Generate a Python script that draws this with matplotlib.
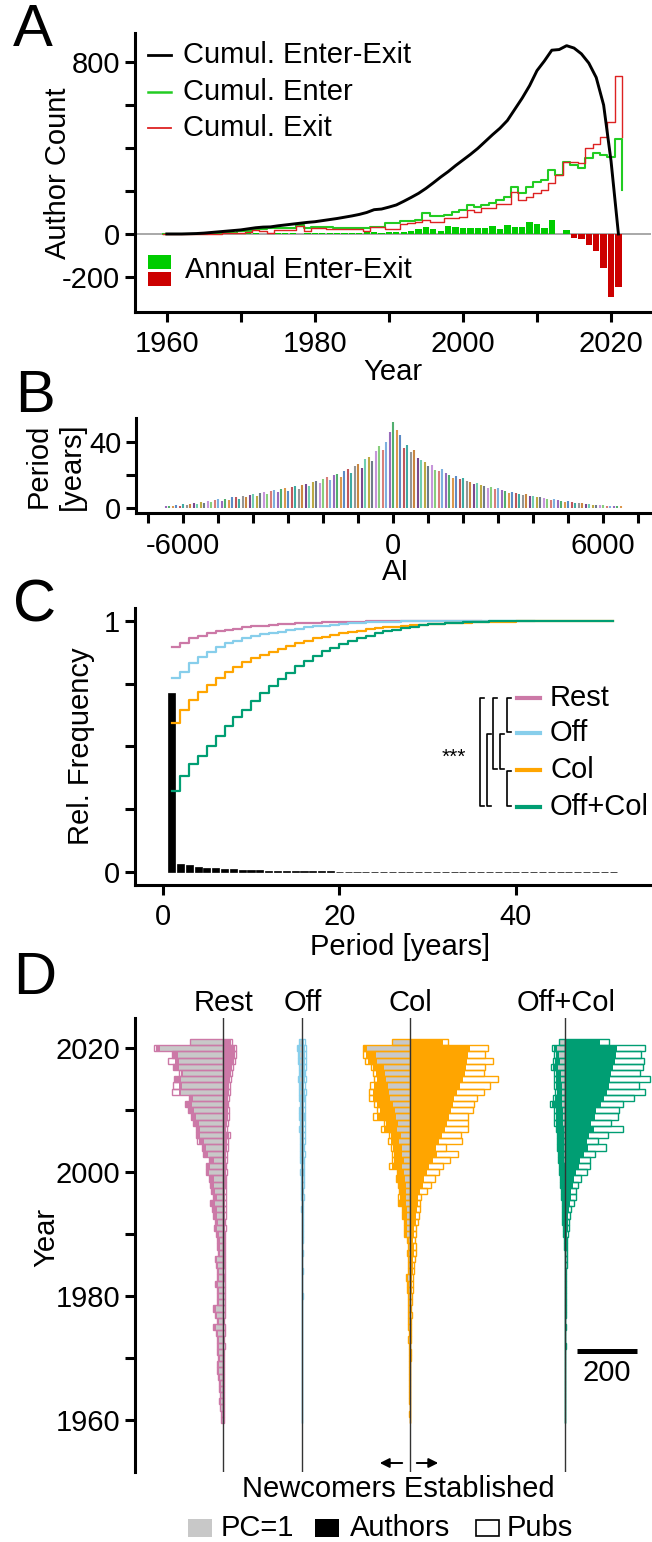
import numpy as np
import matplotlib
matplotlib.use('Agg')
from matplotlib import pyplot as plt
from matplotlib.patches import Rectangle

plt.rcParams['font.family'] = ['Liberation Sans', 'DejaVu Sans']
plt.rcParams['axes.unicode_minus'] = False

W, H = 652, 1542

# ---------------- A: authors entering / leaving per year
years = np.arange(1960, 2022)
annual = [0, 0, 0, 1, 1, 2, 2, 2, 3, 3,
          3, 4, 3, 2, 2, 3, 4, 3, 2, 3,
          3, 4, 4, 3, 4, 5, 6, 8, 8, 6,
          7, 9, 11, 14, 23, 34, 22, 14, 39, 34,
          29, 26, 26, 26, 39, 23, 42, 31, 31, 57,
          46, 26, 65, 0, 20, -20, -25, -51, -79, -160,
          -295, -245]
cum_enter = [0, 0, 0, 1, 1, 2, 3, 4, 5, 6,
             13, 13, 21, 21, 26, 26, 30, 30, 43, 28,
             34, 34, 34, 30, 30, 28, 28, 30, 33, 34,
             49, 49, 60, 62, 64, 96, 82, 85, 88, 104,
             112, 135, 127, 135, 146, 158, 174, 220, 189, 220,
             243, 251, 298, 274, 336, 321, 305, 352, 375, 367,
             360, 440]
cum_exit = [0, 0, 0, 0, 0, 1, 1, 2, 3, 4,
            6, 10, 20, 13, 5, 20, 20, 20, 35, 15,
            26, 26, 24, 23, 23, 23, 23, 13, 32, 32,
            23, 23, 46, 50, 55, 65, 58, 58, 73, 73,
            81, 112, 104, 119, 119, 138, 138, 197, 158, 174,
            189, 205, 236, 275, 336, 336, 329, 398, 420, 449,
            519, 735]
enter_end = 205
exit_end = 449
cum_diff = [0, 0, 0, 1, 2, 4, 7, 10, 13, 16,
            19, 24, 29, 32, 33, 38, 42, 46, 50, 54,
            57, 62, 67, 72, 78, 84, 91, 100, 113, 116,
            125, 135, 152, 170, 189, 212, 238, 265, 290, 318,
            344, 370, 398, 430, 462, 492, 528, 580, 632, 690,
            760, 805, 855, 858, 876, 865, 838, 795, 728, 600,
            340, 0]

# ---------------- B: period of each author along AI
ai_pos = np.arange(-6500, 6501, 100)
period_h = [1.0, 1.2, 0.8, 1.5, 1.3, 2.0, 1.6, 2.4, 2.9, 2.2,
            3.6, 3.0, 4.1, 3.4, 4.6, 5.2, 4.1, 5.6, 4.8, 6.3,
            6.8, 5.5, 7.2, 6.4, 7.9, 8.4, 7.0, 9.1, 9.6, 8.2,
            10.3, 10.8, 9.4, 11.2, 11.8, 10.5, 12.6, 13.1, 11.6, 13.9,
            14.6, 13.0, 15.8, 16.3, 14.9, 17.5, 18.6, 16.8, 19.9, 20.8,
            18.7, 22.6, 23.5, 21.4, 25.4, 26.8, 24.6, 29.8, 31.2, 28.5,
            34.7, 37.6, 35.2, 40.3, 46.5,
            52.5,
            47.8, 44.6, 36.4, 38.2, 34.1, 35.3, 30.6, 29.4, 27.8, 25.3,
            26.1, 23.2, 22.4, 23.6, 21.1, 20.3, 18.4, 19.2, 17.6, 18.1,
            16.2, 15.9, 14.4, 15.1, 13.8, 13.2, 12.1, 12.7, 11.4, 11.9,
            10.6, 10.2, 9.3, 9.8, 8.9, 8.6, 7.8, 8.2, 7.3, 7.0,
            6.4, 6.8, 5.9, 5.6, 5.0, 5.3, 4.5, 4.2, 3.7, 3.9,
            3.3, 3.0, 2.6, 2.8, 2.3, 2.0, 1.8, 1.9, 1.5, 1.6,
            1.3, 1.1, 1.2, 0.9, 0.8]
line_cols = ['#8e5bb5', '#3fa65f', '#d98c3a', '#4a7fc0', '#b8434a', '#2aa198',
             '#8a8a8a', '#c47a2c', '#6c3483', '#5fc9a8', '#b5a030', '#5d6d7e',
             '#c08ad6', '#7bc96f', '#d4706a', '#6fa8dc']

# ---------------- C: period histogram and cumulative fractions
periods = np.arange(1, 52)
period_hist = [0.711, 0.034, 0.029, 0.022, 0.019, 0.016, 0.014, 0.012, 0.011, 0.009,
               0.008, 0.007, 0.006, 0.006, 0.005, 0.005, 0.004, 0.004, 0.0035, 0.003,
               0.003, 0.0025, 0.0022, 0.002, 0.0018, 0.0016, 0.0014, 0.0012, 0.0011, 0.001,
               0.0009, 0.0008, 0.0008, 0.0007, 0.0006, 0.0006, 0.0005, 0.0005, 0.0004, 0.0004,
               0.0004, 0.0003, 0.0003, 0.0003, 0.0003, 0.0002, 0.0002, 0.0002, 0.0002, 0.0002,
               0.0002]
cdf_rest = [0.894, 0.91, 0.93, 0.94, 0.95, 0.957, 0.963, 0.968, 0.973, 0.977,
            0.98, 0.983, 0.985, 0.987, 0.989, 0.991, 0.992, 0.993, 0.994, 0.995,
            0.996, 0.996, 0.997, 0.997, 0.998, 0.998, 0.998, 0.999, 0.999, 0.999,
            0.999, 1.0, 1.0, 1.0, 1.0, 1.0]
cdf_off = [0.771, 0.797, 0.83, 0.855, 0.877, 0.894, 0.91, 0.92, 0.93, 0.94,
           0.945, 0.95, 0.956, 0.963, 0.968, 0.973, 0.977, 0.98, 0.984, 0.987,
           0.989, 0.991, 0.993, 0.994, 0.995, 0.996, 0.997, 0.998, 0.998, 0.999,
           0.999, 0.999, 1.0, 1.0, 1.0, 1.0, 1.0, 1.0, 1.0, 1.0, 1.0, 1.0]
cdf_col = [0.592, 0.645, 0.685, 0.715, 0.745, 0.771, 0.794, 0.815, 0.834, 0.85,
           0.864, 0.877, 0.889, 0.9, 0.91, 0.92, 0.929, 0.936, 0.943, 0.95,
           0.955, 0.96, 0.965, 0.969, 0.973, 0.976, 0.979, 0.982, 0.984, 0.986,
           0.988, 0.99, 0.991, 0.992, 0.993, 0.994, 0.995, 0.996, 0.996, 0.997,
           0.997, 0.998, 0.998, 0.998, 0.999, 0.999, 0.999, 0.999, 1.0, 1.0, 1.0]
cdf_offcol = [0.324, 0.382, 0.43, 0.462, 0.5, 0.54, 0.582, 0.617, 0.646, 0.679,
              0.712, 0.741, 0.768, 0.792, 0.818, 0.838, 0.858, 0.878, 0.893, 0.906,
              0.918, 0.93, 0.94, 0.949, 0.957, 0.964, 0.97, 0.976, 0.981, 0.985,
              0.988, 0.99, 0.992, 0.994, 0.995, 0.996, 0.997, 0.997, 0.998, 0.998,
              0.999, 0.999, 0.999, 0.999, 1.0, 1.0, 1.0, 1.0, 1.0, 1.0, 1.0]

# ---------------- D: newcomers (left) / established (right) per year
rest_pc1 = [6, 6, 7, 9, 7, 9, 9, 11, 15, 14, 12, 14, 15, 15, 17, 24, 15, 20, 25, 14,
            14, 15, 18, 13, 15, 18, 21, 10, 12, 12, 16, 21, 19, 21, 23, 27, 23, 27, 30, 32,
            49, 44, 32, 53, 57, 66, 77, 77, 82, 91, 100, 106, 102, 144, 138, 142, 135, 148, 150, 153,
            214, 110]
rest_new_auth = [8, 8, 10, 12, 10, 12, 12, 16, 21, 19, 16, 19, 21, 21, 24, 32, 21, 27, 32, 19,
                 19, 21, 26, 19, 21, 24, 27, 16, 19, 19, 24, 30, 27, 32, 35, 41, 32, 38, 41, 44,
                 57, 55, 46, 64, 68, 83, 88, 88, 97, 105, 116, 124, 111, 150, 150, 161, 144, 166, 161, 169,
                 228, 112]
rest_new_pubs = [9, 9, 11, 13, 11, 13, 13, 17, 23, 21, 17, 21, 23, 23, 26, 34, 23, 29, 35, 21,
                 21, 23, 28, 21, 23, 26, 29, 18, 21, 21, 26, 32, 29, 35, 37, 44, 35, 41, 44, 47,
                 60, 58, 49, 67, 71, 87, 92, 91, 101, 109, 120, 128, 115, 171, 169, 165, 148, 168, 187, 172,
                 232, 113]
rest_est_auth = [1, 1, 1, 1, 2, 1, 2, 2, 2, 2, 2, 2, 3, 2, 3, 3, 2, 3, 3, 3,
                 3, 3, 3, 4, 3, 4, 4, 5, 4, 5, 5, 6, 5, 6, 6, 7, 6, 7, 8, 8,
                 9, 8, 9, 10, 12, 12, 20, 10, 12, 15, 16, 14, 15, 18, 20, 22, 25, 28, 35, 38,
                 40, 27]
rest_est_pubs = [2, 2, 2, 2, 3, 2, 3, 3, 3, 3, 3, 3, 4, 3, 4, 4, 3, 4, 5, 4,
                 4, 4, 5, 5, 4, 5, 6, 6, 5, 6, 7, 8, 7, 8, 8, 9, 8, 9, 10, 10,
                 11, 10, 11, 12, 14, 14, 23, 12, 14, 18, 19, 17, 18, 21, 23, 25, 28, 32, 38, 42,
                 44, 29]

off_pc1 = [0, 0, 0, 0, 0, 0, 0, 0, 0, 0, 0, 0, 0, 0, 0, 0, 0, 0, 0, 0,
           0, 0, 0, 1, 0, 0, 0, 1, 0, 0, 1, 1, 1, 1, 2, 1, 2, 2, 2, 3,
           4, 2, 3, 4, 4, 5, 4, 5, 5, 6, 5, 5, 6, 7, 5, 7, 6, 7, 8, 7,
           9, 10]
off_new_auth = [0, 0, 0, 0, 0, 0, 0, 0, 0, 0, 0, 0, 0, 0, 0, 0, 0, 0, 0, 0,
                1, 0, 0, 1, 0, 0, 1, 1, 0, 1, 1, 2, 1, 2, 3, 2, 3, 4, 3, 5,
                6, 4, 5, 7, 6, 8, 7, 9, 8, 10, 9, 8, 10, 11, 9, 12, 10, 11, 13, 12,
                14, 11]
off_new_pubs = [0, 0, 0, 0, 0, 0, 0, 0, 0, 0, 0, 0, 0, 0, 0, 0, 0, 0, 0, 0,
                2, 0, 0, 2, 0, 0, 2, 2, 0, 2, 2, 3, 2, 3, 4, 3, 4, 5, 4, 6,
                8, 5, 7, 9, 8, 10, 9, 11, 10, 12, 11, 10, 12, 13, 11, 14, 12, 13, 15, 14,
                17, 13]
off_est_auth = [0, 0, 0, 0, 0, 0, 0, 0, 0, 0, 0, 0, 0, 0, 0, 0, 0, 0, 0, 0,
                1, 0, 0, 0, 1, 0, 0, 1, 0, 1, 1, 1, 2, 1, 2, 2, 3, 2, 3, 3,
                4, 3, 4, 5, 4, 5, 5, 6, 5, 7, 6, 5, 7, 8, 6, 8, 7, 8, 9, 8,
                10, 6]
off_est_pubs = [0, 0, 0, 0, 0, 0, 0, 0, 0, 0, 0, 0, 0, 0, 0, 0, 0, 0, 0, 0,
                2, 0, 0, 0, 2, 0, 0, 2, 0, 2, 2, 2, 3, 2, 3, 3, 4, 3, 4, 4,
                6, 4, 6, 7, 6, 7, 7, 8, 7, 9, 8, 7, 9, 11, 8, 11, 9, 11, 12, 11,
                13, 8]

col_pc1 = [0, 0, 0, 0, 0, 0, 1, 0, 1, 1, 1, 1, 1, 2, 1, 2, 2, 2, 2, 2,
           2, 3, 3, 5, 2, 2, 2, 3, 2, 3, 8, 7, 8, 9, 10, 12, 13, 13, 12, 14,
           18, 24, 20, 27, 27, 35, 29, 43, 40, 46, 49, 57, 65, 68, 72, 80, 83, 87, 108, 113,
           143, 56]
col_new_auth = [0, 1, 0, 1, 1, 1, 2, 1, 2, 2, 3, 2, 3, 3, 3, 4, 4, 4, 5, 5,
                5, 6, 8, 10, 4, 5, 5, 6, 5, 6, 17, 16, 18, 21, 24, 35, 33, 31, 36, 41,
                39, 60, 54, 54, 57, 64, 62, 86, 78, 110, 98, 108, 122, 124, 120, 110, 114, 122, 140, 148,
                152, 57]
col_new_pubs = [0, 1, 0, 1, 1, 1, 2, 1, 2, 2, 3, 2, 3, 4, 3, 4, 5, 4, 6, 5,
                5, 7, 9, 12, 4, 5, 5, 7, 5, 7, 20, 18, 20, 24, 27, 40, 38, 35, 40, 46,
                43, 68, 60, 60, 63, 72, 68, 96, 85, 124, 108, 121, 136, 136, 132, 119, 124, 130, 150, 156,
                158, 58]
col_est_auth = [0, 0, 1, 0, 1, 1, 1, 1, 2, 1, 2, 2, 2, 3, 2, 3, 3, 5, 4, 5,
                6, 9, 7, 9, 10, 11, 12, 15, 14, 13, 15, 16, 20, 22, 24, 27, 30, 36, 44, 50,
                58, 66, 80, 92, 88, 100, 108, 118, 126, 133, 139, 145, 150, 160, 170, 180, 185, 189, 192, 195,
                204, 111]
col_est_pubs = [1, 0, 2, 1, 2, 2, 2, 3, 3, 2, 4, 4, 3, 5, 4, 6, 6, 8, 6, 8,
                9, 11, 10, 13, 14, 15, 18, 22, 20, 18, 22, 22, 29, 32, 36, 36, 40, 60, 72, 85,
                100, 111, 137, 164, 122, 175, 172, 197, 197, 197, 212, 217, 228, 251, 271, 296, 251, 253, 279, 253,
                264, 130]

oc_pc1 = [0, 0, 0, 0, 0, 0, 0, 0, 0, 0, 0, 0, 0, 0, 0, 0, 0, 0, 0, 0,
          0, 0, 0, 0, 0, 0, 0, 0, 0, 0, 0, 1, 1, 1, 1, 1, 2, 2, 2, 3,
          3, 3, 4, 4, 5, 5, 6, 6, 7, 8, 9, 10, 12, 11, 13, 14, 15, 25, 19, 22,
          28, 19]
oc_new_auth = [0, 0, 0, 0, 0, 0, 0, 0, 0, 0, 0, 0, 0, 1, 0, 0, 1, 0, 1, 1,
               1, 1, 1, 2, 2, 2, 2, 2, 3, 4, 6, 7, 8, 9, 10, 11, 12, 13, 14, 16,
               18, 19, 22, 22, 25, 24, 26, 28, 31, 33, 32, 44, 35, 29, 33, 31, 33, 42, 35, 33,
               38, 19]
oc_new_pubs = [0, 0, 0, 0, 0, 0, 0, 0, 0, 0, 0, 0, 0, 1, 0, 0, 1, 0, 1, 1,
               1, 2, 1, 2, 2, 3, 2, 3, 4, 5, 8, 8, 10, 11, 12, 13, 14, 15, 17, 19,
               22, 22, 26, 26, 30, 28, 30, 33, 37, 39, 37, 53, 41, 34, 39, 37, 39, 50, 41, 39,
               45, 22]
oc_est_auth = [0, 0, 0, 0, 0, 0, 0, 0, 0, 0, 0, 0, 1, 0, 0, 1, 0, 1, 1, 1,
               1, 1, 2, 2, 2, 2, 3, 3, 4, 4, 6, 8, 9, 10, 12, 15, 19, 19, 26, 30,
               37, 45, 50, 62, 75, 71, 78, 95, 86, 101, 104, 118, 131, 140, 146, 150, 153, 160, 168, 171,
               174, 115]
oc_est_pubs = [0, 0, 0, 0, 0, 0, 0, 0, 0, 0, 0, 0, 1, 0, 0, 1, 0, 1, 1, 2,
               2, 2, 3, 3, 3, 4, 4, 5, 5, 6, 9, 11, 12, 15, 19, 30, 34, 34, 41, 53,
               73, 84, 82, 101, 138, 109, 142, 194, 153, 176, 179, 194, 230, 269, 246, 283, 252, 261, 263, 254,
               269, 146]

group_names = ['Rest', 'Off', 'Col', 'Off+Col']
group_cols = ['#cc79a7', '#87ceeb', '#ffa500', '#009e73']
group_center = [297, 563, 923, 1447]   # horizontal slot of each group, in count units
groups = [(rest_pc1, rest_new_auth, rest_new_pubs, rest_est_auth, rest_est_pubs),
          (off_pc1, off_new_auth, off_new_pubs, off_est_auth, off_est_pubs),
          (col_pc1, col_new_auth, col_new_pubs, col_est_auth, col_est_pubs),
          (oc_pc1, oc_new_auth, oc_new_pubs, oc_est_auth, oc_est_pubs)]
cdfs = [cdf_rest, cdf_off, cdf_col, cdf_offcol]


def box(l, t, r, b):
    return [l / W, 1 - b / H, (r - l) / W, (b - t) / H]


def style(ax, xpad=6):
    for s in ('top', 'right'):
        ax.spines[s].set_visible(False)
    for s in ('left', 'bottom'):
        ax.spines[s].set_linewidth(2.2)
    ax.tick_params(direction='out', length=7.2, width=2.2, labelsize=21)
    ax.tick_params(axis='y', pad=3.5)
    ax.tick_params(axis='x', pad=xpad)


fig = plt.figure(figsize=(W / 100, H / 100), dpi=100)

# ---- panel A
axA = fig.add_axes(box(135, 33, 651, 312))
style(axA)
axA.axhline(0, color='#9a9a9a', lw=1.2, zorder=1)
bar_cols = ['#00cc00' if v >= 0 else '#cc0000' for v in annual]
axA.bar(years, annual, width=0.85, color=bar_cols, zorder=2)
step_x = np.append(years - 0.5, years[-1] + 0.5)
axA.step(step_x, cum_enter + [enter_end], where='post', color='#22cc22', lw=1.5, zorder=3)
axA.step(step_x, cum_exit + [exit_end], where='post', color='#dd2222', lw=1.0, zorder=3)
axA.plot(years, cum_diff, color='black', lw=2.1, zorder=4)
axA.set_xlim(1955.7, 2025.4)
axA.set_ylim(-363, 935)
axA.set_xticks(np.arange(1960, 2021, 10), ['1960', '', '1980', '', '2000', '', '2020'])
axA.set_yticks(np.arange(-200, 801, 200), ['-200', '0', '', '', '', '800'])

# ---- panel B
axB = fig.add_axes(box(136, 418, 651, 513.3))
style(axB)
cols_b = [line_cols[i % len(line_cols)] for i in range(len(ai_pos))]
axB.vlines(ai_pos, 0, period_h, colors=cols_b, lw=1.5, alpha=0.9)
axB.set_xlim(-7351, 7363)
axB.set_ylim(-3.43, 54.9)
xt = np.arange(-7000, 7001, 1000)
axB.set_xticks(xt, [str(v) if v in (-6000, 0, 6000) else '' for v in xt])
axB.set_yticks([0, 20, 40], ['0', '', '40'])

# ---- panel C
axC = fig.add_axes(box(135, 608, 651, 885))
style(axC)
axC.bar(periods, period_hist, width=0.8, color='black', edgecolor='black', lw=0.5)
for cdf, c in zip(cdfs, group_cols):
    axC.step(np.arange(1, len(cdf) + 1), cdf, where='post', color=c, lw=1.6)
axC.set_xlim(-3.14, 55.3)
axC.set_ylim(-0.0505, 1.05)
axC.set_xticks([0, 20, 40])
axC.set_yticks([0, 0.25, 0.5, 0.75, 1], ['0', '', '', '', '1'])

# ---- panel D
axD = fig.add_axes(box(135, 1018.3, 652, 1471.7))
style(axD)
axD.spines['bottom'].set_visible(False)
axD.tick_params(axis='x', bottom=False, labelbottom=False)
for (pc1, na, npb, ea, epb), c, x0 in zip(groups, group_cols, group_center):
    axD.barh(years, -np.array(na), left=x0, height=1, color=c, lw=0)
    axD.barh(years, ea, left=x0, height=1, color=c, lw=0)
    axD.barh(years, -np.array(pc1), left=x0, height=1, color='#c8c8c8', lw=0)
    axD.barh(years, -np.array(npb), left=x0, height=1, fill=False, edgecolor=c, lw=1.0)
    axD.barh(years, epb, left=x0, height=1, fill=False, edgecolor=c, lw=1.0)
    axD.axvline(x0, color='#333333', lw=1.0)
axD.set_xlim(0, 1738)
axD.set_ylim(1951.65, 2024.85)
axD.set_yticks(np.arange(1960, 2021, 10), ['1960', '', '1980', '', '2000', '', '2020'])

# ---- overlay in pixel coordinates for labels, legends, annotations
ov = fig.add_axes([0, 0, 1, 1])
ov.set_xlim(0, W)
ov.set_ylim(H, 0)
ov.axis('off')
fs = 21

for lab, (x, y) in zip('ABCD', [(33, 31), (35, 397), (35, 606), (35, 978)]):
    ov.text(x, y, lab, fontsize=43, ha='center', va='center')

ov.text(58, 173, 'Author Count', fontsize=fs, rotation=90, ha='center', va='center')
ov.text(393, 372, 'Year', fontsize=fs, ha='center', va='center')
for y, c, lw, t in [(55, 'black', 2.0, 'Cumul. Enter-Exit'), (92, '#22cc22', 1.8, 'Cumul. Enter'),
                    (128, '#dd2222', 1.3, 'Cumul. Exit')]:
    ov.plot([148, 171], [y, y], color=c, lw=lw)
    ov.text(183, y, t, fontsize=fs, ha='left', va='center')
ov.add_patch(Rectangle((148, 255), 23, 14, color='#00cc00', lw=0))
ov.add_patch(Rectangle((148, 272), 23, 14, color='#cc0000', lw=0))
ov.text(185, 270, 'Annual Enter-Exit', fontsize=fs, ha='left', va='center')

ov.text(39, 466, 'Period', fontsize=fs, rotation=90, ha='center', va='center')
ov.text(72, 466, '[years]', fontsize=fs, rotation=90, ha='center', va='center')
ov.text(396, 572, 'AI', fontsize=fs, ha='center', va='center')

ov.text(81, 746, 'Rel. Frequency', fontsize=fs, rotation=90, ha='center', va='center')
ov.text(400, 947, 'Period [years]', fontsize=fs, ha='center', va='center')
leg_y = [698, 733, 770, 807]
for y, c, name in zip(leg_y, group_cols, group_names):
    ov.plot([517, 540], [y, y], color=c, lw=3)
    ov.text(550, y, name, fontsize=fs, ha='left', va='center')
for x, yt, yb in [(480, 697, 807), (487, 733, 807), (493, 697, 770),
                  (500, 733, 770), (507, 697, 733), (507, 770, 807)]:
    ov.plot([x + 3.5, x, x, x + 3.5], [yt + 1, yt + 1, yb - 1, yb - 1], color='black', lw=1.2)
ov.text(454, 757, '***', fontsize=15, ha='center', va='center')

for x, name in zip([224, 303, 410, 566], group_names):
    ov.text(x, 1003, name, fontsize=fs, ha='center', va='center')
ov.text(46, 1237, 'Year', fontsize=fs, rotation=90, ha='center', va='center')
ov.plot([577, 637], [1351, 1351], color='black', lw=3.6, solid_capstyle='butt')
ov.text(607, 1373, '200', fontsize=fs, ha='center', va='center')
arrow = dict(arrowstyle='-|>', color='black', lw=1.4, mutation_scale=14)
ov.annotate('', xy=(377, 1463), xytext=(405, 1463), arrowprops=arrow)
ov.annotate('', xy=(441, 1463), xytext=(414, 1463), arrowprops=arrow)
ov.text(398, 1489, 'Newcomers Established', fontsize=fs, ha='center', va='center')
ov.add_patch(Rectangle((188, 1519), 24, 18, color='#c8c8c8', lw=0))
ov.text(221, 1528, 'PC=1', fontsize=fs, ha='left', va='center')
ov.add_patch(Rectangle((315, 1519), 24, 18, color='black', lw=0))
ov.text(350, 1528, 'Authors', fontsize=fs, ha='left', va='center')
ov.add_patch(Rectangle((476, 1520), 23, 16, facecolor='white', edgecolor='black', lw=1.2))
ov.text(507, 1528, 'Pubs', fontsize=fs, ha='left', va='center')

plt.savefig('out.png', dpi=100)
